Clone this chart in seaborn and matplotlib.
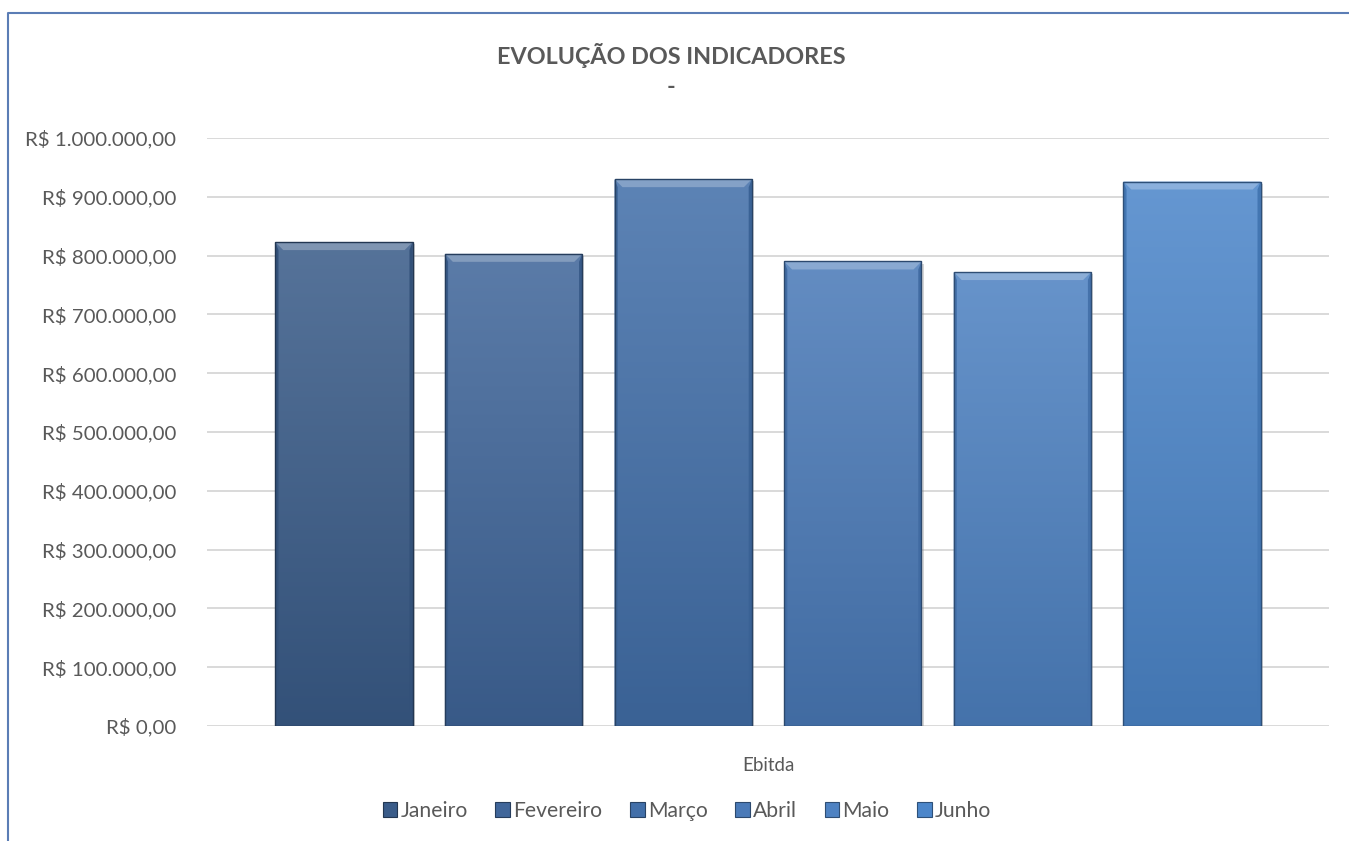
import numpy as np
import pandas as pd
import matplotlib
matplotlib.use("Agg")
import matplotlib.pyplot as plt
import matplotlib.colors as mcolors
from matplotlib.patches import Patch, Polygon
from matplotlib.lines import Line2D
import matplotlib.patheffects as pe
import seaborn as sns

# ---- data ----
category = ["Ebitda"]
months = ["Janeiro", "Fevereiro", "Março", "Abril", "Maio", "Junho"]
values = [823000, 803000, 930000, 790000, 772000, 926000]
yticks = [0, 100000, 200000, 300000, 400000, 500000, 600000, 700000, 800000, 900000, 1000000]

base_colors = ["#3A5C89", "#40669A", "#426FA9", "#4A7AB8", "#4E82C2", "#4C86CA"]

def fmt_brl(v):
    s = f"{v:,.2f}"
    s = s.replace(",", "X").replace(".", ",").replace("X", ".")
    return "R$ " + s

df = pd.DataFrame({"cat": category * len(months), "mes": months, "valor": values})

sns.set_theme(style="white")
plt.rcParams["font.family"] = ["Lato", "DejaVu Sans"]
TXT = "#595959"

W, H = 1349, 841
fig = plt.figure(figsize=(W / 100, H / 100), dpi=100)
ax = fig.add_axes([207 / W, 1 - 726 / H, (1329 - 207) / W, (726 - 138) / H])

sns.barplot(data=df, x="cat", y="valor", hue="mes", hue_order=months,
            palette=base_colors, width=0.907, gap=0.19, ax=ax, legend=False,
            saturation=1, edgecolor="none")

ax.set_xlim(-0.5, 0.5)
ax.set_ylim(0, 1000000)
ax.set_yticks(yticks)
ax.set_yticklabels([fmt_brl(v) for v in yticks], color=TXT, fontsize=14.7)
ax.tick_params(axis="y", length=0, pad=22)
ax.tick_params(axis="x", length=0, pad=22, labelsize=13.5, labelcolor=TXT)
ax.set_xlabel("")
ax.set_ylabel("")
for s in ax.spines.values():
    s.set_visible(False)
ax.grid(axis="y", color="#D9D9D9", linewidth=1.4, zorder=0)
ax.set_axisbelow(True)

fig.canvas.draw()

def blend(c, other, t):
    c = np.array(mcolors.to_rgb(c))
    o = np.array(mcolors.to_rgb(other))
    return tuple(c * (1 - t) + o * t)

inv = ax.transData.inverted()
px_x = abs(inv.transform((8, 0))[0] - inv.transform((0, 0))[0])
px_y = abs(inv.transform((0, 8))[1] - inv.transform((0, 0))[1])

for patch, col in zip(ax.patches, base_colors):
    x0, y0 = patch.get_x(), patch.get_y()
    w, h = patch.get_width(), patch.get_height()
    top = blend(col, "white", 0.14)
    bot = blend(col, "black", 0.12)
    n = 256
    t = np.linspace(0, 1, n)[:, None]
    grad = np.array(top)[None, :] * (1 - t) + np.array(bot)[None, :] * t
    img = np.repeat(grad[:, None, :], 2, axis=1)
    im = ax.imshow(img, extent=(x0, x0 + w, y0, y0 + h), aspect="auto",
                   zorder=3, origin="upper", interpolation="bilinear")
    im.set_clip_path(patch)
    patch.set_facecolor(col)
    patch.set_zorder(2)
    patch.set_path_effects([pe.SimplePatchShadow(offset=(1.5, -1.5), shadow_rgbFace="#888888", alpha=0.35), pe.Normal()])
    bx, by = px_x, px_y
    topc = blend(col, "white", 0.35)
    ax.add_patch(Polygon([(x0, y0 + h), (x0 + w, y0 + h), (x0 + w - bx, y0 + h - by), (x0 + bx, y0 + h - by)],
                         closed=True, facecolor=topc, edgecolor="none", zorder=4))
    sidec = blend(col, "black", 0.12)
    ax.add_patch(Polygon([(x0, y0), (x0, y0 + h), (x0 + bx * 0.4, y0 + h - by), (x0 + bx * 0.4, y0)],
                         closed=True, facecolor=sidec, edgecolor="none", zorder=4))
    ax.add_patch(Polygon([(x0 + w, y0), (x0 + w, y0 + h), (x0 + w - bx * 0.4, y0 + h - by), (x0 + w - bx * 0.4, y0)],
                         closed=True, facecolor=sidec, edgecolor="none", zorder=4))
    ax.add_patch(plt.Rectangle((x0, y0), w, h, facecolor="none",
                               edgecolor=blend(col, "black", 0.4), linewidth=1.0, zorder=5))

# title
fig.text(671 / W, 1 - 55 / H, "EVOLUÇÃO DOS INDICADORES", ha="center", va="center",
         fontsize=16.8, fontweight="bold", color=TXT)
fig.text(671 / W, 1 - 88 / H, "-", ha="center", va="center",
         fontsize=16.8, fontweight="bold", color=TXT)

# legend
handles = [Patch(facecolor=c, edgecolor=blend(c, "black", 0.4), linewidth=0.8) for c in base_colors]
fig.legend(handles, months, loc="center", bbox_to_anchor=(687 / W, 1 - 811 / H), ncol=6,
           frameon=False, fontsize=15.2, labelcolor=TXT, handlelength=0.7, handleheight=0.7,
           handletextpad=0.15, columnspacing=1.3)

# chart frame
fig.add_artist(Line2D([8 / W, 8 / W, 1.0], [0.0, 1 - 13 / H, 1 - 13 / H],
                      transform=fig.transFigure, color="#5B7DB5", linewidth=1.5))

fig.savefig("out.png", dpi=100)
